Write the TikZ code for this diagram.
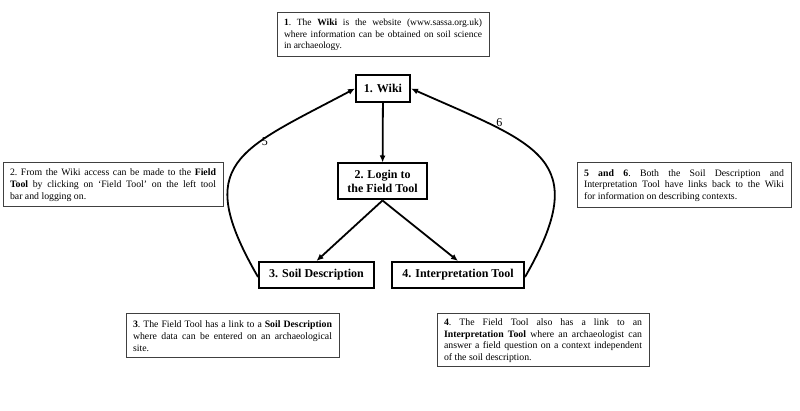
\documentclass[tikz,border=0pt]{standalone}
\usepackage{fontspec}
\setmainfont{Liberation Serif}
\usetikzlibrary{shapes, arrows, arrows.meta}

\tikzset{
	toolbox/.style={draw, line width=2pt, font=\fontsize{12}{14}\selectfont\bfseries, align=center, inner sep=0pt},
	notebox/.style={draw=black!75, line width=1pt, font=\fontsize{9.8}{11.7}\selectfont\frenchspacing, align=justify, inner xsep=7pt, inner ysep=3pt},
	link/.style={-{Latex[length=7pt, width=6pt]}, line width=1.8pt},
	linklabel/.style={font=\fontsize{12}{14}\selectfont, inner sep=1pt},
}

\begin{document}
\begin{tikzpicture}[x=1pt, y=1pt]
	\useasboundingbox (0,0) rectangle (800,411);
	% notes
	\node[notebox, font=\fontsize{9.5}{11.7}\selectfont\frenchspacing, text width=198pt, minimum height=44pt] (wikinote) at (383,376) {\textbf{1}. The \textbf{Wiki} is the website (www.sassa.org.uk)\linebreak where information can be obtained on soil science\linebreak in archaeology.};
	\node[notebox, text width=206pt, minimum height=44pt] (loginnote) at (113,226) {2. From the Wiki access can be made to the \textbf{Field}\linebreak \textbf{Tool} by clicking on ‘Field Tool’ on the left tool\linebreak bar and logging on.};
	\node[notebox, text width=200pt, minimum height=45pt] (backnote) at (684,225.5) {\textbf{5 and 6}. Both the Soil Description and\linebreak Interpretation Tool have links back to the Wiki\linebreak for information on describing contexts.};
	\node[notebox, text width=199pt, minimum height=44pt] (soilnote) at (232.5,75) {\textbf{3}. The Field Tool has a link to a \textbf{Soil Description}\linebreak where data can be entered on an archaeological\linebreak site.};
	\node[notebox, text width=198pt, minimum height=53pt] (interpnote) at (543,70.5) {\textbf{4}. The Field Tool also has a link to an\linebreak \textbf{Interpretation Tool} where an archaeologist can\linebreak answer a field question on a context independent\linebreak of the soil description.};
	% tools
	\node[toolbox, minimum width=54pt, minimum height=27pt] (wiki) at (383,322.5) {1. Wiki};
	\node[toolbox, minimum width=89pt, minimum height=36pt] (login) at (382.5,229.5) {2. Login to\\the Field Tool};
	\node[toolbox, minimum width=115pt, minimum height=26pt] (soil) at (316.5,136) {3. Soil Description};
	\node[toolbox, minimum width=132pt, minimum height=26pt] (interp) at (458,136) {4. Interpretation Tool};
	% links
	\draw[link] (wiki) -- (login);
	\draw[link] (login.south) -- (soil.north);
	\draw[link] (login.south) -- (interp.north);
	\draw[link] ([yshift=-2pt]soil.west) to[out=120, in=208, looseness=1.6] node[linklabel, pos=0.65, anchor=west] {5} (wiki.west);
	\draw[link] ([yshift=-2pt]interp.east) to[out=60, in=336, looseness=1.6] node[linklabel, pos=0.72, anchor=south, inner sep=1.5pt] {6} (wiki.east);
\end{tikzpicture}
\end{document}
